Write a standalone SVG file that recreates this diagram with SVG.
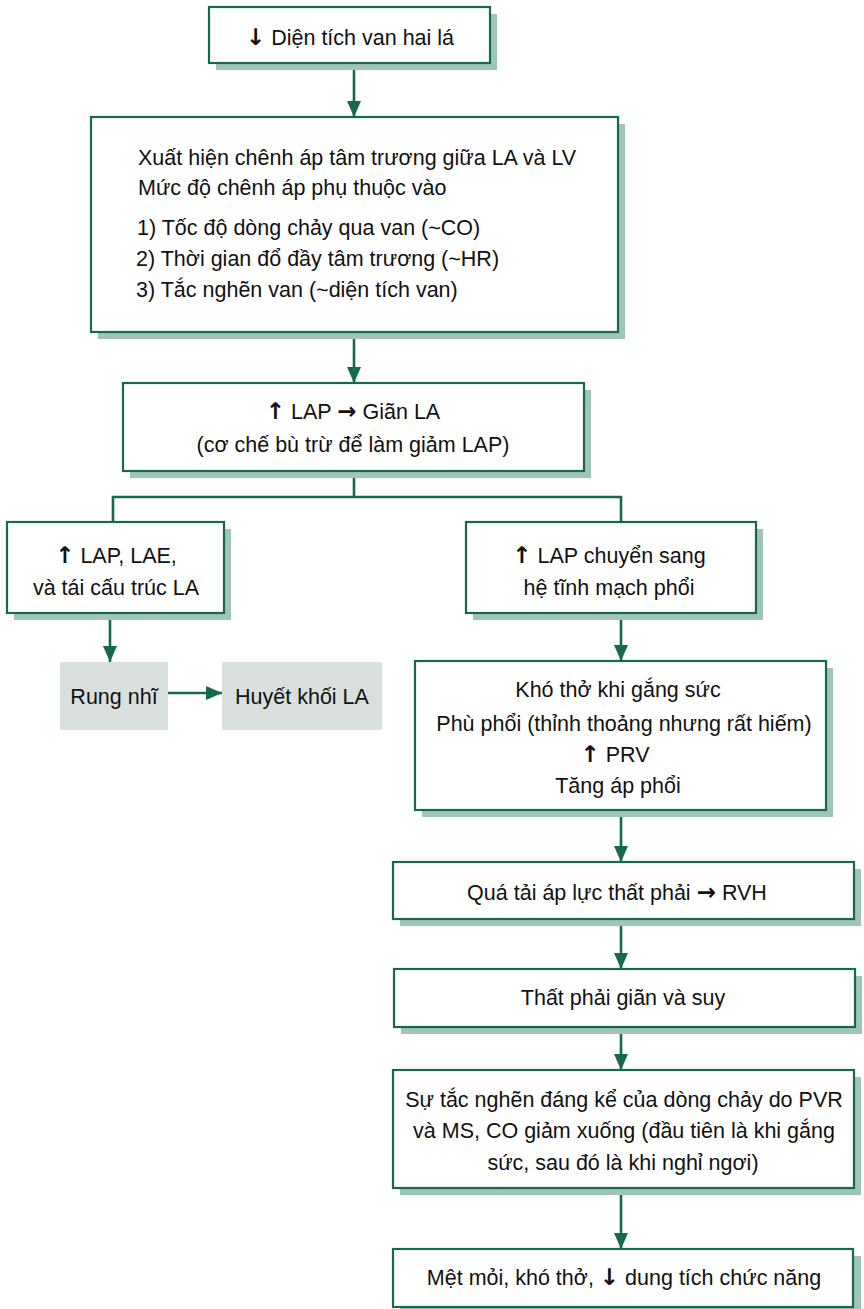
<svg xmlns="http://www.w3.org/2000/svg" width="864" height="1309" viewBox="0 0 864 1309">
  <style>
    .box { fill: #ffffff; stroke: #16694b; stroke-width: 2.2; }
    .shadow { fill: #a0c5b8; stroke: none; }
    .grey { fill: #d8dfdc; stroke: none; }
    .t { font-family: "Liberation Sans", Arial, sans-serif; font-size: 21.5px; fill: #111111; }
    .c { text-anchor: middle; }
    .ar { font-family: "DejaVu Sans", sans-serif; font-weight: bold; font-size: 23px; fill: #111111; }
    .link { fill: none; stroke: #16694b; stroke-width: 2.6; }
  </style>
  <defs>
    <marker id="head" markerUnits="userSpaceOnUse" markerWidth="16" markerHeight="14" refX="16" refY="7" orient="auto">
      <path d="M0,0 L16,7 L0,14 z" fill="#16694b"/>
    </marker>
  </defs>

  <rect width="864" height="1309" fill="#ffffff"/>

  <!-- connectors -->
  <g id="connectors">
    <line class="link" x1="354" y1="63" x2="354" y2="117" marker-end="url(#head)"/>
    <line class="link" x1="354" y1="332" x2="354" y2="383" marker-end="url(#head)"/>
    <polyline class="link" points="354,471 354,497"/>
    <polyline class="link" points="113,522 113,497 621,497 621,522"/>
    <line class="link" x1="110" y1="613" x2="110" y2="662" marker-end="url(#head)"/>
    <line class="link" x1="168" y1="693" x2="222" y2="693" marker-end="url(#head)"/>
    <line class="link" x1="621" y1="613" x2="621" y2="661" marker-end="url(#head)"/>
    <line class="link" x1="621" y1="810" x2="621" y2="862" marker-end="url(#head)"/>
    <line class="link" x1="621" y1="919" x2="621" y2="969" marker-end="url(#head)"/>
    <line class="link" x1="621" y1="1027" x2="621" y2="1070" marker-end="url(#head)"/>
    <line class="link" x1="621" y1="1188" x2="621" y2="1249" marker-end="url(#head)"/>
  </g>

  <g id="n-dien-tich">
    <rect class="shadow" x="216" y="14" width="281" height="56"/>
    <rect class="box" x="209" y="7" width="281" height="56"/>
    <text class="t c" x="350" y="45"><tspan class="ar">↓</tspan> Diện tích van hai lá</text>
  </g>

  <g id="n-chenh-ap">
    <rect class="shadow" x="98" y="124" width="527" height="215"/>
    <rect class="box" x="91" y="117" width="527" height="215"/>
    <text class="t" x="138" y="165">Xuất hiện chênh áp tâm trương giữa LA và LV</text>
    <text class="t" x="138" y="195">Mức độ chênh áp phụ thuộc vào</text>
    <text class="t" x="137" y="235">1) Tốc độ dòng chảy qua van (~CO)</text>
    <text class="t" x="136" y="266">2) Thời gian đổ đầy tâm trương (~HR)</text>
    <text class="t" x="136" y="297">3) Tắc nghẽn van (~diện tích van)</text>
  </g>

  <g id="n-gian-la">
    <rect class="shadow" x="130" y="390" width="461" height="88"/>
    <rect class="box" x="123" y="383" width="461" height="88"/>
    <text class="t c" x="353" y="419"><tspan class="ar">↑</tspan> LAP <tspan class="ar">→</tspan> Giãn LA</text>
    <text class="t c" x="353" y="452">(cơ chế bù trừ để làm giảm LAP)</text>
  </g>

  <g id="n-lae">
    <rect class="shadow" x="14" y="529" width="217" height="91"/>
    <rect class="box" x="7" y="522" width="217" height="91"/>
    <text class="t c" x="116" y="563"><tspan class="ar">↑</tspan> LAP, LAE,</text>
    <text class="t c" x="116" y="595">và tái cấu trúc LA</text>
  </g>

  <g id="n-rung-nhi">
    <rect class="grey" x="60" y="662" width="108" height="68"/>
    <text class="t c" x="114" y="704">Rung nhĩ</text>
  </g>

  <g id="n-huyet-khoi">
    <rect class="grey" x="222" y="662" width="160" height="68"/>
    <text class="t c" x="302" y="704">Huyết khối LA</text>
  </g>

  <g id="n-tinh-mach-phoi">
    <rect class="shadow" x="473" y="529" width="290" height="91"/>
    <rect class="box" x="466" y="522" width="290" height="91"/>
    <text class="t c" x="609" y="563"><tspan class="ar">↑</tspan> LAP chuyển sang</text>
    <text class="t c" x="609" y="595">hệ tĩnh mạch phổi</text>
  </g>

  <g id="n-kho-tho">
    <rect class="shadow" x="422" y="668" width="411" height="149"/>
    <rect class="box" x="415" y="661" width="411" height="149"/>
    <text class="t c" x="618" y="697">Khó thở khi gắng sức</text>
    <text class="t c" x="624" y="731">Phù phổi (thỉnh thoảng nhưng rất hiếm)</text>
    <text class="t c" x="615" y="762"><tspan class="ar">↑</tspan> PRV</text>
    <text class="t c" x="618" y="793">Tăng áp phổi</text>
  </g>

  <g id="n-qua-tai">
    <rect class="shadow" x="400" y="869" width="461" height="57"/>
    <rect class="box" x="393" y="862" width="461" height="57"/>
    <text class="t c" x="617" y="900">Quá tải áp lực thất phải <tspan class="ar">→</tspan> RVH</text>
  </g>

  <g id="n-that-phai">
    <rect class="shadow" x="401" y="976" width="461" height="58"/>
    <rect class="box" x="394" y="969" width="461" height="58"/>
    <text class="t c" x="623" y="1005">Thất phải giãn và suy</text>
  </g>

  <g id="n-tac-nghen">
    <rect class="shadow" x="400" y="1077" width="461" height="118"/>
    <rect class="box" x="393" y="1070" width="461" height="118"/>
    <text class="t c" x="624" y="1107">Sự tắc nghẽn đáng kể của dòng chảy do PVR</text>
    <text class="t c" x="624" y="1138">và MS, CO giảm xuống (đầu tiên là khi gắng</text>
    <text class="t c" x="623" y="1170">sức, sau đó là khi nghỉ ngơi)</text>
  </g>

  <g id="n-met-moi">
    <rect class="shadow" x="400" y="1256" width="461" height="58"/>
    <rect class="box" x="393" y="1249" width="460" height="58"/>
    <text class="t c" x="624" y="1285">Mệt mỏi, khó thở, <tspan class="ar">↓</tspan> dung tích chức năng</text>
  </g>
</svg>
